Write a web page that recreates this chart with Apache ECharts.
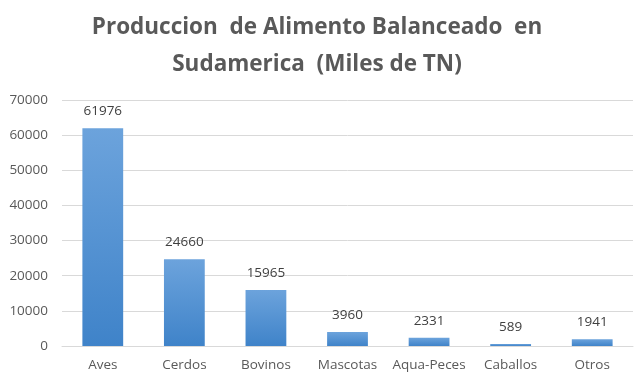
<!DOCTYPE html>
<html><head><meta charset="utf-8">
<script src="https://cdn.jsdelivr.net/npm/echarts@6/dist/echarts.min.js"></script>
<style>html,body{margin:0;padding:0;background:#fff}#c{width:644px;height:383px}</style>
</head><body><div id="c"></div>
<script>
const categories = ['Aves','Cerdos','Bovinos','Mascotas','Aqua-Peces','Caballos','Otros'];
const values = [61976,24660,15965,3960,2331,589,1941];
const titleText = 'Produccion  de Alimento Balanceado  en\nSudamerica  (Miles de TN)';

const chart = echarts.init(document.getElementById('c'));
chart.setOption({
  animation: false,
  title: {
    text: titleText,
    left: 312, top: 4, textAlign: 'center',
    textStyle: {fontFamily: 'Open Sans', fontWeight: 'bold', fontSize: 22.5, color: '#595959', lineHeight: 37}
  },
  grid: {left: 62, right: 11, top: 100, bottom: 37},
  xAxis: {
    type: 'category', data: categories,
    axisLine: {lineStyle: {color: '#d9d9d9'}},
    axisTick: {show: false},
    axisLabel: {color: '#595959', fontFamily: 'Open Sans', fontSize: 13.5, margin: 12, interval: 0}
  },
  yAxis: {
    type: 'value', min: 0, max: 70000, interval: 10000,
    axisLine: {show: false}, axisTick: {show: false},
    axisLabel: {color: '#595959', fontFamily: 'Open Sans', fontSize: 13.5, margin: 14, formatter: v => String(v)},
    splitLine: {lineStyle: {color: '#d9d9d9'}}
  },
  series: [{
    type: 'bar', data: values, barWidth: '50%',
    itemStyle: {color: new echarts.graphic.LinearGradient(0,0,0,1,[{offset:0,color:'#6ca3dc'},{offset:1,color:'#3f83c9'}])},
    label: {show: true, position: 'top', distance: 10, color: '#404040', fontFamily: 'Open Sans', fontSize: 13.5}
  }]
});
</script></body></html>
